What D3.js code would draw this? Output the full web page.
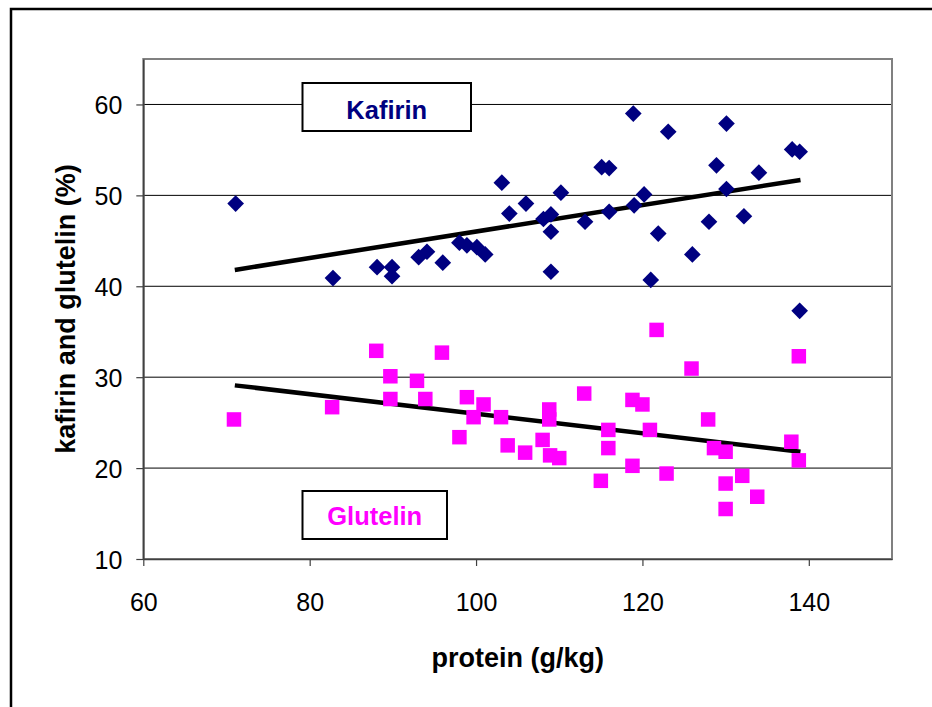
<!DOCTYPE html>
<html>
<head>
<meta charset="utf-8">
<script src="https://cdn.jsdelivr.net/npm/d3@7"></script>
<style>
  html, body { margin: 0; padding: 0; background: #fff; }
  svg { display: block; font-family: "Liberation Sans", Arial, sans-serif; }
</style>
</head>
<body>
<svg id="chart" width="932" height="707"></svg>
<script>
// ---- data ----
const kafirinX = [71.1, 82.8, 88.1, 89.9, 89.9, 93.1, 94.1, 96.0, 98.0, 98.9, 100.1, 101.1, 103.1, 104.0, 106.0, 108.1, 109.0, 109.0, 109.0, 110.2, 113.1, 115.1, 116.0, 116.0, 118.9, 119.0, 120.2, 121.0, 121.9, 123.1, 126.0, 128.0, 128.9, 130.1, 130.1, 132.2, 134.0, 138.0, 138.9, 138.9];
const kafirinY = [49.1, 40.9, 42.1, 42.1, 41.1, 43.2, 43.8, 42.6, 44.8, 44.5, 44.3, 43.5, 51.4, 48.0, 49.1, 47.4, 47.9, 46.0, 41.6, 50.3, 47.1, 53.1, 53.0, 48.2, 59.0, 48.9, 50.1, 40.7, 45.8, 57.0, 43.5, 47.1, 53.3, 57.9, 50.7, 47.7, 52.5, 55.05, 54.8, 37.3];
const glutelinX = [70.9, 82.7, 88.0, 89.7, 89.7, 92.9, 93.9, 95.9, 98.0, 98.9, 99.7, 100.9, 103.0, 103.8, 105.9, 108.0, 108.8, 108.8, 108.9, 110.0, 113.0, 115.0, 115.9, 115.9, 118.8, 118.8, 120.0, 120.9, 121.7, 122.9, 125.9, 127.9, 128.6, 130.0, 130.0, 130.0, 132.0, 133.8, 137.9, 138.8, 138.8];
const glutelinY = [25.35, 26.7, 32.9, 30.1, 27.6, 29.6, 27.6, 32.7, 23.4, 27.8, 25.6, 27.0, 25.6, 22.5, 21.7, 23.1, 26.45, 25.35, 21.4, 21.1, 28.2, 18.6, 24.2, 22.2, 27.5, 20.25, 27.0, 24.2, 35.2, 19.4, 30.95, 25.35, 22.2, 21.8, 18.3, 15.5, 19.15, 16.85, 22.9, 32.3, 20.85];
const trendX = [71, 139];
const kafirinTrendY = [41.8, 51.7];
const glutelinTrendY = [29.1, 21.8];
const xTicks = [60, 80, 100, 120, 140];
const yTicks = [10, 20, 30, 40, 50, 60];
const xTitle = "protein (g/kg)";
const yTitle = "kafirin and glutelin (%)";
const kafirinLabel = "Kafirin";
const glutelinLabel = "Glutelin";

// ---- layout ----
const L = 143.3, R = 892, T = 59, B = 559;
const svg = d3.select("#chart");
const x = d3.scaleLinear().domain([60, 150]).range([L, R]);
const y = d3.scaleLinear().domain([10, 65]).range([B, T]);

// outer border
svg.append("rect").attr("x", 11).attr("y", 9).attr("width", 1000).attr("height", 1000)
  .attr("fill", "none").attr("stroke", "#000").attr("stroke-width", 2.5);

// gridlines
svg.append("g").selectAll("line").data(yTicks.filter(d => d > 10)).join("line")
  .attr("x1", L).attr("x2", R).attr("y1", d => y(d)).attr("y2", d => y(d))
  .attr("stroke", "#000").attr("stroke-width", 1);

// plot frame
svg.append("rect").attr("x", L).attr("y", T).attr("width", R - L).attr("height", B - T)
  .attr("fill", "none").attr("stroke", "#808080").attr("stroke-width", 2);

// axes
const xAxis = svg.append("g").attr("transform", `translate(0,${B})`)
  .call(d3.axisBottom(x).tickValues(xTicks).tickSize(7).tickSizeOuter(0).tickPadding(27));
const yAxis = svg.append("g").attr("transform", `translate(${L},0)`)
  .call(d3.axisLeft(y).tickValues(yTicks).tickSize(7).tickSizeOuter(0).tickPadding(14));
[xAxis, yAxis].forEach(a => {
  a.select(".domain").attr("stroke", "#404040").attr("stroke-width", 1.6);
  a.selectAll(".tick line").attr("stroke", "#404040").attr("stroke-width", 1.2);
  a.selectAll("text").attr("font-size", 25).attr("fill", "#000")
    .attr("font-family", "Liberation Sans, Arial, sans-serif");
});
yAxis.selectAll("text").attr("dy", "0.36em");

// axis titles
svg.append("text").attr("x", (L + R) / 2).attr("y", 667).attr("text-anchor", "middle")
  .attr("font-size", 27).attr("font-weight", "bold").text(xTitle);
svg.append("text").attr("transform", `translate(75,${(T + B) / 2}) rotate(-90)`)
  .attr("text-anchor", "middle").attr("font-size", 27).attr("font-weight", "bold").text(yTitle);

// trend lines
const line = d3.line().x(d => x(d[0])).y(d => y(d[1]));
svg.append("path").datum(trendX.map((v, i) => [v, kafirinTrendY[i]])).attr("d", line)
  .attr("stroke", "#000").attr("stroke-width", 4.5).attr("fill", "none");
svg.append("path").datum(trendX.map((v, i) => [v, glutelinTrendY[i]])).attr("d", line)
  .attr("stroke", "#000").attr("stroke-width", 4.5).attr("fill", "none");

// glutelin squares
const sq = d3.symbol().type(d3.symbolSquare).size(14.5 * 14.5);
svg.append("g").selectAll("path").data(glutelinX.map((v, i) => [v, glutelinY[i]])).join("path")
  .attr("d", sq).attr("transform", d => `translate(${x(d[0])},${y(d[1])})`)
  .attr("fill", "#FF00FF");

// kafirin diamonds
const dm = d3.symbol().type(d3.symbolSquare).size(11.8 * 11.8);
svg.append("g").selectAll("path").data(kafirinX.map((v, i) => [v, kafirinY[i]])).join("path")
  .attr("d", dm).attr("transform", d => `translate(${x(d[0])},${y(d[1])}) rotate(45)`)
  .attr("fill", "#000080");

// label boxes
function labelBox(x0, y0, w, h, txt, color, base) {
  svg.append("rect").attr("x", x0).attr("y", y0).attr("width", w).attr("height", h)
    .attr("fill", "#fff").attr("stroke", "#000").attr("stroke-width", 2);
  svg.append("text").attr("x", x0 + w / 2).attr("y", base).attr("text-anchor", "middle")
    .attr("font-size", 25.5).attr("font-weight", "bold").attr("fill", color).text(txt);
}
labelBox(302.5, 83, 168.5, 48, kafirinLabel, "#000080", 118.5);
labelBox(302.5, 491, 144.5, 48, glutelinLabel, "#FF00FF", 525);
</script>
</body>
</html>
